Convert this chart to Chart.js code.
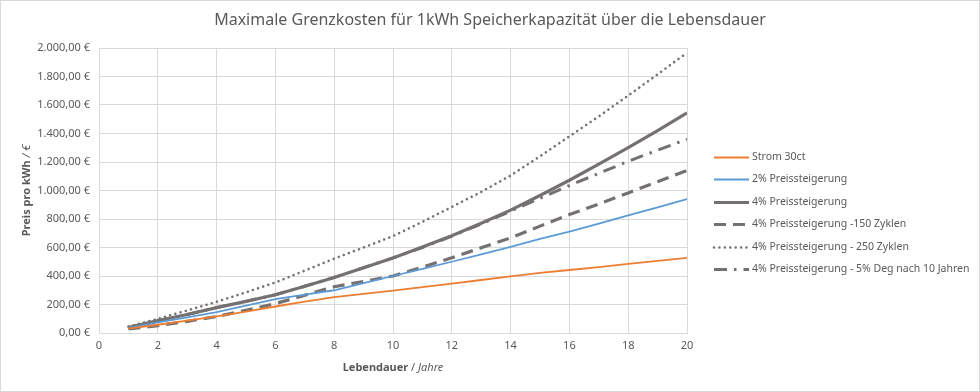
<!DOCTYPE html>
<html>
<head>
<meta charset="utf-8">
<script src="https://cdn.jsdelivr.net/npm/chart.js@4/dist/chart.umd.min.js"></script>
<style>
  html, body { margin: 0; padding: 0; background: #ffffff; }
  #wrap { position: relative; width: 980px; height: 392px; }
</style>
</head>
<body>
<div id="wrap"><canvas id="chart" width="980" height="392"></canvas></div>
<script>
'use strict';

// Werte (Jahr 1..20)
const jahre = [1, 2, 3, 4, 5, 6, 7, 8, 9, 10, 11, 12, 13, 14, 15, 16, 17, 18, 19, 20];
const strom30ct = [30, 58, 87, 116, 150, 186, 220, 252, 275, 298, 322, 346, 372, 398, 422, 442, 463, 485, 506, 527];
const steigerung2 = [35, 75, 110, 146, 192, 238, 270, 300, 350, 400, 450, 500, 552, 605, 660, 712, 768, 825, 882, 940];
const steigerung4 = [38, 87, 130, 178, 222, 268, 328, 390, 458, 527, 603, 682, 770, 862, 965, 1072, 1185, 1301, 1420, 1544];
const zyklen150 = [28, 52, 82, 115, 160, 206, 265, 325, 362, 400, 462, 528, 598, 668, 750, 831, 905, 983, 1062, 1141];
const zyklen250 = [45, 99, 158, 219, 285, 355, 438, 522, 600, 680, 780, 885, 990, 1105, 1240, 1380, 1520, 1666, 1815, 1967];
const degNach10 = [38, 87, 130, 178, 222, 268, 328, 390, 458, 527, 600, 680, 765, 855, 945, 1035, 1120, 1205, 1283, 1360];

const seriesNames = [
    'Strom 30ct',
    '2% Preissteigerung',
    '4% Preissteigerung',
    '4% Preissteigerung -150 Zyklen',
    '4% Preissteigerung - 250 Zyklen',
    '4% Preissteigerung - 5% Deg nach 10 Jahren'
];

const xTicks = [0, 2, 4, 6, 8, 10, 12, 14, 16, 18, 20];

const titleText = 'Maximale Grenzkosten für 1kWh Speicherkapazität über die Lebensdauer';
const FONT = '"Noto Sans", "Open Sans", sans-serif';
const TEXT_COLOR = '#595959';
const GRID_COLOR = '#d9d9d9';
const GRAY = '#767171';

function points(values) {
    return values.map((v, i) => ({ x: jahre[i], y: v }));
}

function euro(v) {
    const fixed = v.toFixed(2).split('.');
    const intPart = fixed[0].replace(/\B(?=(\d{3})+(?!\d))/g, '.');
    return intPart + ',' + fixed[1] + ' €';
}

const datasets = [
    { label: seriesNames[0], data: points(strom30ct), borderColor: '#ED7D31', borderWidth: 1.8 },
    { label: seriesNames[1], data: points(steigerung2), borderColor: '#5B9BD5', borderWidth: 1.8 },
    { label: seriesNames[2], data: points(steigerung4), borderColor: GRAY, borderWidth: 3.2 },
    { label: seriesNames[3], data: points(zyklen150), borderColor: GRAY, borderWidth: 3.2, borderDash: [12, 7] },
    { label: seriesNames[4], data: points(zyklen250), borderColor: GRAY, borderWidth: 2.6, borderDash: [0.01, 5.4], borderCapStyle: 'round' },
    { label: seriesNames[5], data: points(degNach10), borderColor: GRAY, borderWidth: 3, borderDash: [13, 7, 2.5, 7] }
].map(d => Object.assign({ pointRadius: 0, pointHoverRadius: 0, tension: 0, fill: false, order: 0 }, d));

// Titel, Achsentitel, Legende und Rahmen selbst zeichnen
const excelDecor = {
    id: 'excelDecor',
    afterDraw(chart) {
        const ctx = chart.ctx;
        const area = chart.chartArea;
        ctx.save();

        // Rahmen
        ctx.strokeStyle = GRID_COLOR;
        ctx.lineWidth = 1;
        ctx.strokeRect(0.5, 0.5, chart.width - 1, chart.height - 1);

        // Titel
        ctx.fillStyle = TEXT_COLOR;
        ctx.font = '16px ' + FONT;
        ctx.textAlign = 'center';
        ctx.textBaseline = 'middle';
        ctx.fillText(titleText, 490, 20);

        // X-Achsentitel: "Lebendauer" fett, "/ Jahre" kursiv
        const cx = (area.left + area.right) / 2;
        const boldX = 'bold 11px ' + FONT;
        const italX = 'italic 11px ' + FONT;
        const partA = 'Lebendauer ';
        const partB = '/ ';
        const partC = 'Jahre';
        ctx.font = boldX; const wA = ctx.measureText(partA).width;
        ctx.font = '11px ' + FONT; const wB = ctx.measureText(partB).width;
        ctx.font = italX; const wC = ctx.measureText(partC).width;
        let sx = cx - (wA + wB + wC) / 2;
        ctx.textAlign = 'left';
        ctx.font = boldX; ctx.fillText(partA, sx, 368); sx += wA;
        ctx.font = '11px ' + FONT; ctx.fillText(partB, sx, 368); sx += wB;
        ctx.font = italX; ctx.fillText(partC, sx, 368);

        // Y-Achsentitel gedreht
        const cy = (area.top + area.bottom) / 2;
        ctx.translate(27, cy);
        ctx.rotate(-Math.PI / 2);
        const yA = 'Preis pro kWh ';
        const yB = '/ €';
        ctx.font = boldX; const wyA = ctx.measureText(yA).width;
        ctx.font = italX; const wyB = ctx.measureText(yB).width;
        let sy = -(wyA + wyB) / 2;
        ctx.font = boldX; ctx.fillText(yA, sy, 0); sy += wyA;
        ctx.font = italX; ctx.fillText(yB, sy, 0);
        ctx.setTransform(1, 0, 0, 1, 0, 0);

        // Legende rechts
        const rowY = [157, 179, 202, 224, 247, 269];
        ctx.font = '10.5px ' + FONT;
        ctx.textBaseline = 'middle';
        chart.data.datasets.forEach((ds, i) => {
            const y = rowY[i] + 0.5;
            ctx.beginPath();
            ctx.strokeStyle = ds.borderColor;
            ctx.lineWidth = ds.borderWidth;
            ctx.lineCap = ds.borderCapStyle || 'butt';
            ctx.setLineDash(ds.borderDash || []);
            ctx.moveTo(714, y);
            ctx.lineTo(749, y);
            ctx.stroke();
            ctx.setLineDash([]);
            ctx.fillStyle = TEXT_COLOR;
            ctx.fillText(ds.label, 752, rowY[i]);
        });

        ctx.restore();
    }
};

const ctx = document.getElementById('chart').getContext('2d');
const chart = new Chart(ctx, {
    type: 'line',
    data: { datasets: datasets },
    options: {
        responsive: false,
        animation: false,
        events: [],
        layout: { padding: { top: 48, right: 293, bottom: 0, left: 0 } },
        plugins: {
            legend: { display: false },
            title: { display: false },
            tooltip: { enabled: false }
        },
        scales: {
            x: {
                type: 'linear',
                min: 0,
                max: 20,
                afterBuildTicks(scale) {
                    scale.ticks = xTicks.map(v => ({ value: v }));
                },
                afterFit(scale) { scale.height = 392 - 333; },
                ticks: {
                    color: TEXT_COLOR,
                    font: { family: FONT, size: 11 },
                    padding: 6,
                    maxRotation: 0,
                    autoSkip: false
                },
                grid: { color: GRID_COLOR, lineWidth: 1, drawTicks: false },
                border: { color: GRID_COLOR, width: 1 }
            },
            y: {
                min: 0,
                max: 2000,
                afterFit(scale) { scale.width = 99; },
                ticks: {
                    stepSize: 200,
                    color: TEXT_COLOR,
                    font: { family: FONT, size: 11 },
                    padding: 9,
                    callback: v => euro(v)
                },
                grid: { color: GRID_COLOR, lineWidth: 1, drawTicks: false },
                border: { color: GRID_COLOR, width: 1 }
            }
        }
    },
    plugins: [excelDecor]
});
</script>
</body>
</html>
